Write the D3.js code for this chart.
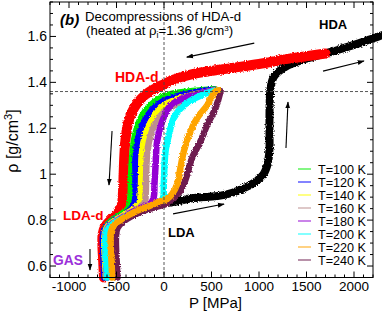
<!DOCTYPE html>
<html><head><meta charset="utf-8">
<script src="https://cdn.jsdelivr.net/npm/d3@7"></script>
<style>
html,body{margin:0;padding:0;background:#fff;}
svg{display:block;font-family:"Liberation Sans",Arial,Helvetica,sans-serif;}
</style></head>
<body>
<svg id="c" width="382" height="313"></svg>
<script>
// ---------- data (P in MPa, rho in g/cm^3) ----------
const xTicks = [-1000, -500, 0, 500, 1000, 1500, 2000];
const yTicks = [0.6, 0.8, 1.0, 1.2, 1.4, 1.6];
const yTickLabels = ["0.6", "0.8", "1", "1.2", "1.4", "1.6"];

const compressionLDA = [[-60,0.872],[120,0.88],[290,0.895],[640,0.91],[820,0.935],[955,0.965],[1047,1.0],[1094,1.05],[1110,1.11],[1110,1.2],[1112,1.3],[1120,1.37],[1140,1.41],[1170,1.432],[1275,1.467],[1450,1.497],[1700,1.526],[2050,1.57],[2260,1.60],[2310,1.607]];

const hdaD = [[1700,1.526],[1300,1.502],[1000,1.48],[600,1.456],[300,1.436],[100,1.412],[0,1.392],[-100,1.372],[-200,1.345],[-280,1.31],[-340,1.268],[-380,1.22],[-400,1.17],[-415,1.1],[-425,1.0],[-432,0.92],[-445,0.865],[-480,0.835],[-550,0.805],[-615,0.775],[-645,0.74],[-648,0.69],[-640,0.62],[-632,0.55]];

const t100 = [[530,1.37],[300,1.362],[100,1.352],[0,1.34],[-100,1.315],[-190,1.28],[-260,1.23],[-305,1.17],[-330,1.1],[-345,1.0],[-350,0.92],[-360,0.87],[-390,0.845],[-470,0.82],[-560,0.795],[-615,0.77],[-635,0.74],[-635,0.69],[-628,0.62],[-620,0.55]];
const t120 = [[540,1.368],[300,1.355],[100,1.335],[0,1.32],[-100,1.29],[-180,1.25],[-240,1.2],[-280,1.14],[-300,1.07],[-300,1.0],[-300,0.92],[-310,0.875],[-350,0.848],[-440,0.82],[-540,0.795],[-610,0.77],[-640,0.74],[-642,0.69],[-635,0.62],[-628,0.55]];
const t140 = [[545,1.366],[300,1.345],[100,1.32],[0,1.3],[-90,1.26],[-160,1.21],[-210,1.15],[-235,1.08],[-240,1.0],[-245,0.92],[-258,0.875],[-310,0.852],[-410,0.825],[-515,0.8],[-590,0.775],[-622,0.745],[-628,0.69],[-620,0.62],[-612,0.55]];
const t160 = [[550,1.366],[350,1.345],[150,1.31],[0,1.27],[-80,1.23],[-140,1.17],[-175,1.1],[-188,1.0],[-192,0.92],[-205,0.875],[-270,0.852],[-380,0.827],[-490,0.8],[-580,0.775],[-615,0.745],[-620,0.69],[-612,0.62],[-604,0.55]];
const t180 = [[555,1.366],[380,1.352],[200,1.33],[69,1.30],[-19,1.23],[-72,1.144],[-90,1.03],[-100,0.96],[-108,0.9],[-140,0.872],[-250,0.852],[-370,0.827],[-480,0.8],[-570,0.775],[-605,0.745],[-612,0.69],[-605,0.62],[-597,0.55]];
const t200 = [[560,1.366],[400,1.345],[209,1.3],[103,1.245],[51,1.17],[16,1.1],[-2,0.96],[-8,0.9],[-40,0.878],[-150,0.86],[-300,0.835],[-430,0.81],[-540,0.783],[-600,0.755],[-618,0.72],[-615,0.66],[-605,0.6],[-598,0.55]];
const t220 = [[570,1.366],[533,1.358],[455,1.30],[350,1.245],[262,1.17],[209,1.10],[174,1.03],[139,0.957],[86,0.914],[34,0.892],[-72,0.878],[-142,0.863],[-260,0.845],[-380,0.82],[-470,0.797],[-530,0.775],[-558,0.75],[-562,0.70],[-555,0.64],[-545,0.55]];
const t240 = [[596,1.362],[543,1.288],[455,1.216],[385,1.144],[297,1.072],[245,1.0],[209,0.957],[174,0.928],[103,0.895],[30,0.872],[-80,0.858],[-220,0.84],[-350,0.815],[-440,0.79],[-490,0.765],[-505,0.73],[-505,0.68],[-498,0.62],[-490,0.55]];

const seriesNames = ["T=100 K","T=120 K","T=140 K","T=160 K","T=180 K","T=200 K","T=220 K","T=240 K"];
const seriesData = [t100,t120,t140,t160,t180,t200,t220,t240];
const seriesColors = ["#00ee00","#0000ff","#ffff00","#bc8f8f","#9400d3","#00ffff","#ffa500","#6e1e50"];
const rhoInitial = 1.36;

// arrows: [from, to] in data units
const arrows = [
  [[950,1.571],[240,1.51]],
  [[1674,1.449],[2105,1.493]],
  [[1284,1.114],[1305,1.314]],
  [[-547,1.188],[-579,0.953]],
  [[95,0.827],[632,0.87]],
  [[-779,0.674],[-779,0.583]]
];

// ---------- layout ----------
const svg = d3.select("#c");
const L = 50, R = 373, T = 2, B = 277.5;
const x = d3.scaleLinear().domain([-1200, 2200]).range([L, R]);
const y = d3.scaleLinear().domain([0.55, 1.75]).range([B, T]);

const line = d3.line().x(d => x(d[0])).y(d => y(d[1])).curve(d3.curveCatmullRom.alpha(0.5));

const defs = svg.append("defs");
// rough edge filter to mimic dense scattered trajectories
const f = defs.append("filter").attr("id","rough").attr("x","-5%").attr("y","-5%").attr("width","110%").attr("height","110%");
f.append("feTurbulence").attr("type","fractalNoise").attr("baseFrequency","0.9").attr("numOctaves",2).attr("seed",3).attr("result","n");
f.append("feDisplacementMap").attr("in","SourceGraphic").attr("in2","n").attr("scale",3.2)
  .attr("xChannelSelector","R").attr("yChannelSelector","G");

const g = svg.append("g").attr("filter","url(#rough)");
// compression curve (black)
g.append("path").attr("d", line(compressionLDA)).attr("fill","none")
  .attr("stroke","#000").attr("stroke-width",8).attr("stroke-linejoin","round").attr("stroke-linecap","round");
// HDA-d decompression (red)
g.append("path").attr("d", line(hdaD)).attr("fill","none")
  .attr("stroke","#ff0000").attr("stroke-width",10).attr("stroke-linejoin","round").attr("stroke-linecap","round");
// decompressions at T
const order = [0,1,2,3,4,5,7,6];
order.forEach(i => {
  g.append("path").attr("d", line(seriesData[i])).attr("fill","none")
    .attr("stroke", seriesColors[i]).attr("stroke-width",6.5)
    .attr("stroke-linejoin","round").attr("stroke-linecap","round");
});

// dashed reference lines
svg.append("line").attr("x1", x(0)).attr("x2", x(0)).attr("y1", T).attr("y2", B)
  .attr("stroke","#444").attr("stroke-width",0.9).attr("stroke-dasharray","3,2");
svg.append("line").attr("x1", L).attr("x2", R).attr("y1", y(rhoInitial)).attr("y2", y(rhoInitial))
  .attr("stroke","#444").attr("stroke-width",0.9).attr("stroke-dasharray","3,2");

// frame
svg.append("rect").attr("x",L).attr("y",T).attr("width",R-L).attr("height",B-T)
  .attr("fill","none").attr("stroke","#000").attr("stroke-width",1);

// ticks (inward, all sides)
const xMinor = d3.range(-1200, 2201, 100);
const yMinor = d3.range(0.55, 1.7501, 0.05);
const tk = svg.append("g").attr("stroke","#000").attr("stroke-width",1);
xMinor.forEach(v => {
  const major = xTicks.includes(Math.round(v));
  const len = major ? 6 : 3;
  tk.append("line").attr("x1",x(v)).attr("x2",x(v)).attr("y1",B).attr("y2",B-len);
  tk.append("line").attr("x1",x(v)).attr("x2",x(v)).attr("y1",T).attr("y2",T+len);
});
yMinor.forEach(v => {
  const major = yTicks.some(t => Math.abs(t - v) < 1e-6);
  const len = major ? 6 : 3;
  tk.append("line").attr("x1",L).attr("x2",L+len).attr("y1",y(v)).attr("y2",y(v));
  tk.append("line").attr("x1",R).attr("x2",R-len).attr("y1",y(v)).attr("y2",y(v));
});

// tick labels
svg.append("g").selectAll("text").data(xTicks).join("text")
  .attr("x", d => x(d)).attr("y", 291).attr("text-anchor","middle")
  .attr("font-size",13.5).text(d => d < 0 ? "-" + Math.abs(d) : d);
svg.append("g").selectAll("text").data(yTicks).join("text")
  .attr("x", 47).attr("y", d => y(d) + 5).attr("text-anchor","end")
  .attr("font-size",14).text((d,i) => yTickLabels[i]);

// axis titles
svg.append("text").attr("x", (L+R)/2 + 4).attr("y", 307.5).attr("text-anchor","middle")
  .attr("font-size",15).text("P [MPa]");
const yl = svg.append("text").attr("transform", `translate(17.5,${141}) rotate(-90)`)
  .attr("text-anchor","middle").attr("font-size",16);
yl.append("tspan").text("ρ [g/cm");
yl.append("tspan").attr("dy",-6).attr("font-size",11).text("3");
yl.append("tspan").attr("dy",6).text("]");

// legend
const lg = svg.append("g");
seriesNames.forEach((n,i) => {
  const yy = 169 + i*13;
  lg.append("line").attr("x1",298).attr("x2",311).attr("y1",yy).attr("y2",yy)
    .attr("stroke", seriesColors[i]).attr("stroke-width",1.3).attr("opacity",0.75);
  lg.append("text").attr("x",318).attr("y",yy+4.5).attr("font-size",12.6).text(n);
});

// arrows
defs.append("marker").attr("id","ah").attr("viewBox","0 0 10 10").attr("refX",9).attr("refY",5)
  .attr("markerWidth",7).attr("markerHeight",7).attr("orient","auto-start-reverse")
  .attr("markerUnits","userSpaceOnUse")
  .append("path").attr("d","M0,1.5 L10,5 L0,8.5 Z").attr("fill","#000");
arrows.forEach(a => {
  svg.append("line").attr("x1",x(a[0][0])).attr("y1",y(a[0][1])).attr("x2",x(a[1][0])).attr("y2",y(a[1][1]))
    .attr("stroke","#000").attr("stroke-width",1.1).attr("marker-end","url(#ah)");
});

// annotations
svg.append("text").attr("x",60).attr("y",25).attr("font-size",15).attr("font-weight","bold")
  .attr("font-style","italic").text("(b)");
svg.append("text").attr("x",85).attr("y",20.5).attr("font-size",13.2).text("Decompressions of HDA-d");
const t2 = svg.append("text").attr("x",86).attr("y",35.3).attr("font-size",13.2);
t2.append("tspan").text("(heated at ρ");
t2.append("tspan").attr("dy",3).attr("font-size",9).text("i");
t2.append("tspan").attr("dy",-3).text("=1.36 g/cm");
t2.append("tspan").attr("dy",-4.5).attr("font-size",8).text("3");
t2.append("tspan").attr("dy",4.5).text(")");

svg.append("text").attr("x",319).attr("y",29).attr("font-size",13).attr("font-weight","bold").text("HDA");
svg.append("text").attr("x",115).attr("y",82).attr("font-size",14).attr("font-weight","bold").attr("fill","#ff0000").text("HDA-d");
svg.append("text").attr("x",63).attr("y",220).attr("font-size",13.5).attr("font-weight","bold").attr("fill","#ff0000").text("LDA-d");
svg.append("text").attr("x",168).attr("y",237).attr("font-size",13).attr("font-weight","bold").text("LDA");
svg.append("text").attr("x",53).attr("y",265).attr("font-size",13.8).attr("font-weight","bold").attr("fill","#9b30d9").text("GAS");
</script>
</body></html>
